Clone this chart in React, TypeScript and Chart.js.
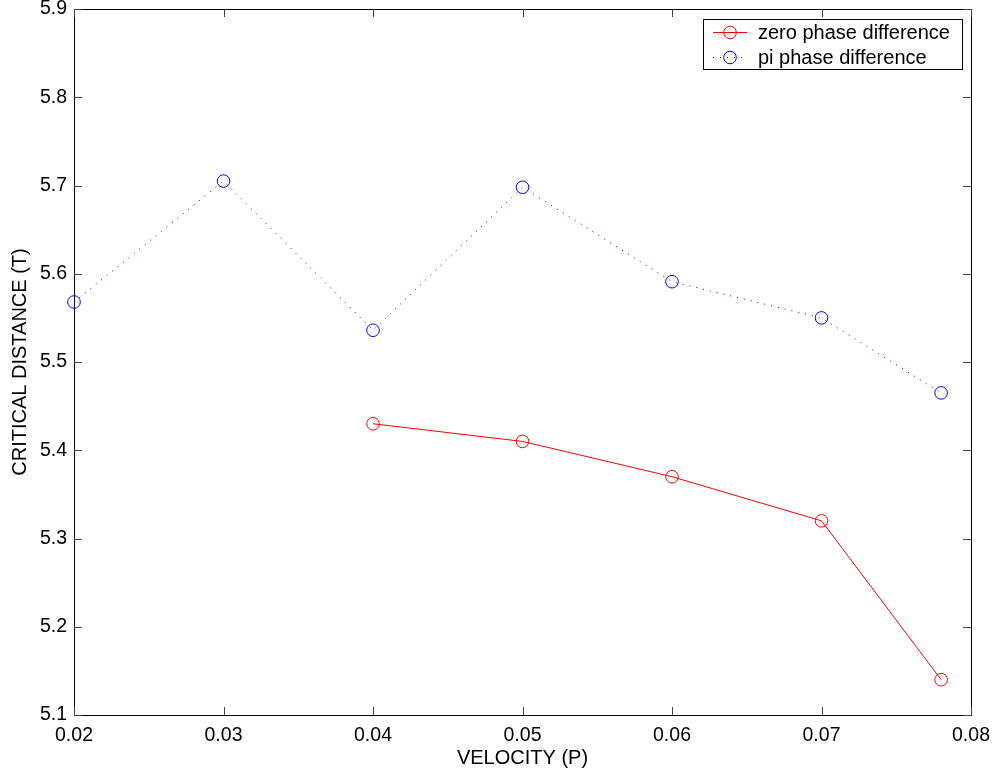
import React, { useEffect, useRef } from "react";
import { Chart, registerables } from "chart.js";

Chart.register(...registerables);

const zeroVelocity = [0.04, 0.05, 0.06, 0.07, 0.078];
const zeroPhase = [5.43, 5.41, 5.37, 5.32, 5.14];
const piVelocity = [0.02, 0.03, 0.04, 0.05, 0.06, 0.07, 0.078];
const piPhase = [5.568, 5.705, 5.536, 5.698, 5.591, 5.55, 5.465];
const seriesNames = ["zero phase difference", "pi phase difference"];
const xTitle = "VELOCITY (P)";
const yTitle = "CRITICAL DISTANCE (T)";

const FONT = "Arial, 'Liberation Sans', Helvetica, sans-serif";

const framePlugin = {
  id: "frame",
  beforeDatasetsDraw(chart: any) {
    const { ctx, chartArea: a, scales } = chart;
    const xs = scales.x;
    const ys = scales.y;
    ctx.save();
    ctx.strokeStyle = "#000";
    ctx.lineWidth = 1;
    ctx.strokeRect(Math.round(a.left) + 0.5, Math.round(a.top) + 0.5, Math.round(a.right - a.left), Math.round(a.bottom - a.top));
    ctx.strokeStyle = "#444";
    const L = 8;
    ctx.beginPath();
    xs.ticks.forEach((t: any) => {
      const px = Math.round(xs.getPixelForValue(t.value)) + 0.5;
      ctx.moveTo(px, a.bottom);
      ctx.lineTo(px, a.bottom - L);
      ctx.moveTo(px, a.top);
      ctx.lineTo(px, a.top + L);
    });
    ys.ticks.forEach((t: any) => {
      const py = Math.round(ys.getPixelForValue(t.value)) + 0.5;
      ctx.moveTo(a.left, py);
      ctx.lineTo(a.left + L, py);
      ctx.moveTo(a.right, py);
      ctx.lineTo(a.right - L, py);
    });
    ctx.stroke();

    // axis titles
    ctx.fillStyle = "#000";
    ctx.font = `20px ${FONT}`;
    ctx.textAlign = "center";
    ctx.textBaseline = "middle";
    ctx.fillText(xTitle, (a.left + a.right) / 2, 758);
    ctx.save();
    ctx.translate(20, (a.top + a.bottom) / 2);
    ctx.rotate(-Math.PI / 2);
    ctx.fillText(yTitle, 0, 0);
    ctx.restore();
    ctx.restore();
  },
  afterDraw(chart: any) {
    const { ctx } = chart;
    ctx.save();
    const bx = 703, by = 19, bw = 259, bh = 50;
    ctx.fillStyle = "#fff";
    ctx.fillRect(bx, by, bw, bh);
    ctx.strokeStyle = "#000";
    ctx.lineWidth = 1;
    ctx.strokeRect(bx + 0.5, by + 0.5, bw, bh);
    const rows = [
      { y: 32, color: "#ff0000", dash: [] as number[] },
      { y: 57, color: "#0000ff", dash: [1, 6] },
    ];
    rows.forEach((r, i) => {
      ctx.strokeStyle = r.color;
      ctx.setLineDash(r.dash);
      ctx.beginPath();
      ctx.moveTo(713, r.y + 0.5);
      ctx.lineTo(747, r.y + 0.5);
      ctx.stroke();
      ctx.setLineDash([]);
      ctx.beginPath();
      ctx.arc(730, r.y + 0.5, 6.3, 0, Math.PI * 2);
      ctx.stroke();
      ctx.fillStyle = "#000";
      ctx.font = `20px ${FONT}`;
      ctx.textAlign = "left";
      ctx.textBaseline = "middle";
      ctx.fillText(seriesNames[i], 758, r.y + 1);
    });
    ctx.restore();
  },
};

export default function App() {
  const ref = useRef<HTMLCanvasElement>(null);
  useEffect(() => {
    document.body.style.margin = "0";
    const c = new Chart(ref.current!, {
      type: "line",
      data: {
        datasets: [
          {
            label: seriesNames[0],
            data: zeroVelocity.map((x, i) => ({ x, y: zeroPhase[i] })),
            borderColor: "#ff0000",
            backgroundColor: "transparent",
            borderWidth: 1,
            pointRadius: 6.3,
            pointBorderWidth: 1,
            pointBorderColor: "#ff0000",
            pointBackgroundColor: "transparent",
            tension: 0,
            clip: false as any,
          },
          {
            label: seriesNames[1],
            data: piVelocity.map((x, i) => ({ x, y: piPhase[i] })),
            borderColor: "#0000ff",
            backgroundColor: "transparent",
            borderWidth: 1,
            borderDash: [1, 6],
            pointRadius: 6.3,
            pointBorderWidth: 1,
            pointBorderColor: "#0000ff",
            pointBackgroundColor: "transparent",
            tension: 0,
            clip: false as any,
          },
        ],
      },
      options: {
        responsive: false,
        animation: false,
        layout: { padding: { top: 9, right: 23, left: 0, bottom: 0 } },
        plugins: { legend: { display: false }, tooltip: { enabled: false } },
        scales: {
          x: {
            type: "linear",
            min: 0.02,
            max: 0.08,
            grid: { display: false, drawTicks: false },
            border: { display: false },
            ticks: {
              stepSize: 0.01,
              padding: 9,
              color: "#000",
              font: { family: FONT, size: 19.5 },
              maxRotation: 0,
              callback: (v: any) => Number(v).toFixed(2),
            },
            afterFit: (s: any) => {
              s.height = 57;
              s.paddingLeft = 0;
              s.paddingRight = 0;
            },
          },
          y: {
            type: "linear",
            min: 5.1,
            max: 5.9,
            grid: { display: false, drawTicks: false },
            border: { display: false },
            ticks: {
              stepSize: 0.1,
              padding: 7,
              color: "#000",
              font: { family: FONT, size: 19.5 },
              callback: (v: any) => Number(v).toFixed(1),
            },
            afterFit: (s: any) => {
              s.width = 74;
              s.paddingTop = 0;
              s.paddingBottom = 0;
            },
          },
        },
      },
      plugins: [framePlugin],
    });
    return () => c.destroy();
  }, []);
  return (
    <div style={{ width: 994, height: 772, background: "#fff" }}>
      <canvas ref={ref} width={994} height={772} style={{ display: "block" }} />
    </div>
  );
}
